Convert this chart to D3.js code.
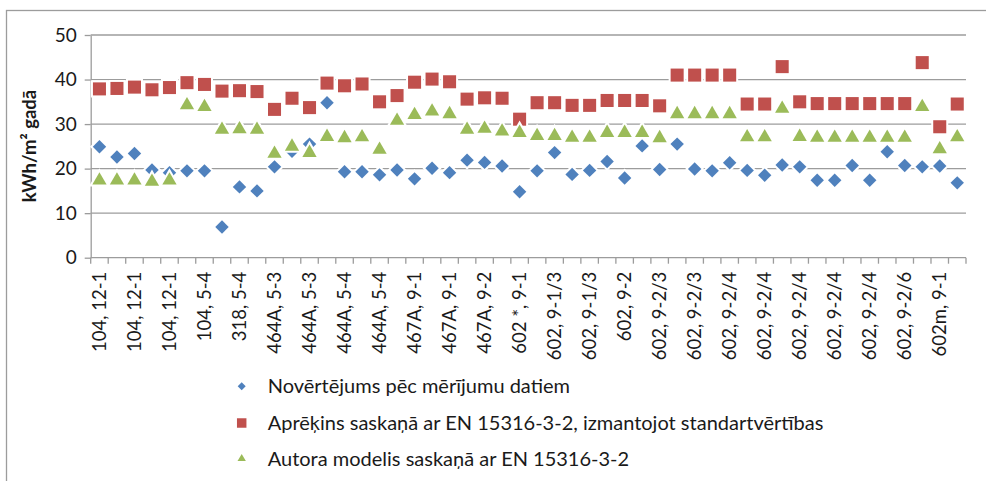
<!DOCTYPE html>
<meta charset="utf-8">
<style>
body { margin: 0; background: #fff; }
text { font-family: Lato, "Open Sans", sans-serif; fill: #1a1a1a; }
.grid line { stroke: #9c9c9c; stroke-width: 1.3px; }
.axis path, .axis line { stroke: #9c9c9c; stroke-width: 1.3px; }
</style>
<body>
<div id="chart"></div>
<script src="https://d3js.org/d3.v7.min.js"></script>
<script>
// kategorijas (projekts, sērija) - katra otrā redzama uz ass
var categories = [
  "104, 12-1","104, 12-1","104, 12-1","104, 12-1","104, 12-1",
  "104, 12-1","104, 5-4","104, 5-4","318, 5-4","318, 5-4",
  "464A, 5-3","464A, 5-3","464A, 5-3","464A, 5-3","464A, 5-4",
  "464A, 5-4","464A, 5-4","464A, 5-4","467A, 9-1","467A, 9-1",
  "467A, 9-1","467A, 9-1","467A, 9-2","467A, 9-2","602 *, 9-1",
  "602 *, 9-1","602, 9-1/3","602, 9-1/3","602, 9-1/3","602, 9-1/3",
  "602, 9-2","602, 9-2","602, 9-2/3","602, 9-2/3","602, 9-2/3",
  "602, 9-2/3","602, 9-2/4","602, 9-2/4","602, 9-2/4","602, 9-2/4",
  "602, 9-2/4","602, 9-2/4","602, 9-2/4","602, 9-2/4","602, 9-2/4",
  "602, 9-2/4","602, 9-2/6","602, 9-2/6","602m, 9-1","602m, 9-1"
];

var measured = [
  24.9,22.6,23.4,19.7,19.1,19.5,19.5,6.9,15.9,15.0,
  20.4,23.9,25.5,34.8,19.3,19.3,18.6,19.7,17.7,20.1,
  19.1,21.9,21.4,20.6,14.8,19.5,23.6,18.7,19.6,21.6,
  17.9,25.1,19.8,25.5,19.9,19.5,21.3,19.6,18.5,20.8,
  20.4,17.4,17.4,20.7,17.4,23.8,20.7,20.4,20.6,16.8
];

var standard = [
  37.9,38.0,38.3,37.7,38.2,39.3,38.9,37.4,37.5,37.3,
  33.3,35.8,33.7,39.2,38.6,39.0,35.0,36.4,39.4,40.1,
  39.5,35.6,35.9,35.8,31.1,34.8,34.8,34.2,34.2,35.3,
  35.3,35.3,34.1,41.0,41.0,41.0,41.0,34.5,34.5,42.9,
  35.0,34.6,34.6,34.6,34.6,34.6,34.6,43.8,29.4,34.5
];

var author = [
  17.8,17.8,17.8,17.5,17.8,34.7,34.3,29.2,29.3,29.2,
  23.8,25.4,24.0,27.6,27.3,27.5,24.7,31.2,32.5,33.3,
  32.7,29.2,29.4,28.8,28.5,27.8,27.8,27.4,27.4,28.5,
  28.5,28.5,27.3,32.7,32.7,32.7,32.7,27.5,27.5,33.9,
  27.6,27.4,27.4,27.4,27.4,27.4,27.4,34.3,24.8,27.5
];

var yTicks = [0, 10, 20, 30, 40, 50];

var seriesNames = [
  "Novērtējums pēc mērījumu datiem",
  "Aprēķins saskaņā ar EN 15316-3-2, izmantojot standartvērtības",
  "Autora modelis saskaņā ar EN 15316-3-2"
];
var colors = ["#4f81bd", "#c0504d", "#9bbb59"];

var W = 986, H = 481;
var plotL = 90.7, plotR = 966, plotT = 35, plotB = 257.7;

var svg = d3.select("#chart").append("svg")
    .attr("width", W)
    .attr("height", H);

// rāmis
svg.append("rect")
    .attr("x", 6.5).attr("y", 10.5)
    .attr("width", 1000).attr("height", 500)
    .attr("fill", "none")
    .attr("stroke", "#9c9c9c")
    .attr("stroke-width", 1.3);

var x = d3.scaleBand()
    .domain(d3.range(categories.length))
    .range([plotL, plotR]);

var y = d3.scaleLinear()
    .domain([0, 50])
    .range([plotB, plotT]);

// režģa līnijas
svg.append("g")
    .attr("class", "grid")
    .selectAll("line")
    .data(yTicks.filter(function(d) { return d > 0; }))
    .enter().append("line")
      .attr("x1", plotL).attr("x2", plotR)
      .attr("y1", function(d) { return y(d); })
      .attr("y2", function(d) { return y(d); });

// y ass
var yAxis = svg.append("g")
    .attr("class", "axis")
    .attr("transform", "translate(" + plotL + ",0)")
    .call(d3.axisLeft(y).tickValues(yTicks).tickSize(6).tickPadding(8).tickSizeOuter(0));
yAxis.selectAll("text")
    .style("font-size", "19px")
    .attr("fill", "#1a1a1a");

// x ass ar atzīmēm uz kategoriju robežām
var xAxis = svg.append("g")
    .attr("class", "axis")
    .attr("transform", "translate(0," + plotB + ")");
xAxis.append("line")
    .attr("x1", plotL).attr("x2", plotR);
xAxis.selectAll("line.tick")
    .data(d3.range(categories.length + 1))
    .enter().append("line")
      .attr("class", "tick")
      .attr("x1", function(i) { return plotL + i * x.step(); })
      .attr("x2", function(i) { return plotL + i * x.step(); })
      .attr("y1", 0).attr("y2", 6);

xAxis.selectAll("text")
    .data(d3.range(0, categories.length, 2))
    .enter().append("text")
      .attr("transform", function(i) {
        return "translate(" + (x(i) + x.bandwidth() / 2) + ",14) rotate(-90)";
      })
      .attr("text-anchor", "end")
      .attr("dy", "0.36em")
      .style("font-size", "18.5px")
      .text(function(i) { return categories[i]; });

// y ass nosaukums
svg.append("text")
    .attr("transform", "translate(30,146) rotate(-90)")
    .attr("text-anchor", "middle")
    .attr("dy", "0.35em")
    .style("font-size", "18.5px")
    .style("font-weight", "bold")
    .text("kWh/m² gadā");

// marķieri
var square = d3.symbol().type(d3.symbolSquare).size(170);
var diamond = d3.symbol().type(d3.symbolSquare).size(90);
var triangle = d3.symbol().type(d3.symbolTriangle).size(88);

function drawSeries(values, path, color, rot, dyOff) {
  svg.append("g")
    .selectAll("path")
    .data(values)
    .enter().append("path")
      .attr("d", path)
      .attr("transform", function(d, i) {
        return "translate(" + (x(i) + x.bandwidth() / 2) + "," + (y(d) + dyOff) + ") rotate(" + rot + ")";
      })
      .attr("fill", color)
      .attr("stroke", "#fff")
      .attr("stroke-width", 4)
      .attr("paint-order", "stroke");
}

drawSeries(measured, diamond, colors[0], 45, 0);
drawSeries(standard, square, colors[1], 0, 0);
drawSeries(author, triangle, colors[2], 0, 2);

// leģenda
var legendY = [386.3, 423, 458.7];
var legendShapes = [
  d3.symbol().type(d3.symbolSquare).size(32),
  d3.symbol().type(d3.symbolSquare).size(90),
  d3.symbol().type(d3.symbolTriangle).size(30)
];
var legendRot = [45, 0, 0];

var legend = svg.append("g")
    .selectAll("g")
    .data(seriesNames)
    .enter().append("g")
      .attr("transform", function(d, i) { return "translate(241.7," + legendY[i] + ")"; });

legend.append("path")
    .attr("d", function(d, i) { return legendShapes[i](); })
    .attr("transform", function(d, i) { return "rotate(" + legendRot[i] + ")"; })
    .attr("fill", function(d, i) { return colors[i]; });

legend.append("text")
    .attr("x", 26)
    .attr("dy", "0.35em")
    .style("font-size", "20px")
    .text(function(d) { return d; });
</script>
</body>
